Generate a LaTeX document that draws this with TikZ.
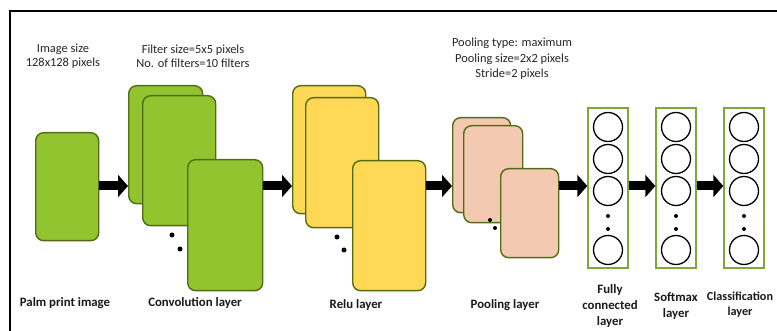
\documentclass[tikz,border=0pt]{standalone}
\usepackage{fontspec}
\setmainfont{Carlito}
\usetikzlibrary{arrows.meta, positioning}
\definecolor{mapgreen}{RGB}{146,196,48}
\definecolor{mapedge}{RGB}{82,108,22}
\definecolor{mapyellow}{RGB}{255,217,86}
\definecolor{mappeach}{RGB}{244,201,178}
\definecolor{layeredge}{RGB}{128,168,56}

\begin{document}
\begin{tikzpicture}[x=1pt, y=-1pt,
    fmap/.style={draw=mapedge, line width=1.4pt, rounded corners=8pt,
                 anchor=north west, inner sep=0pt},
    conv/.style={fmap, fill=mapgreen},
    relu/.style={fmap, fill=mapyellow},
    pool/.style={fmap, fill=mappeach},
    layer/.style={draw=layeredge, line width=1.4pt, fill=white,
                  minimum width=40pt, minimum height=160pt, inner sep=0pt},
    neuron/.style={circle, draw, line width=1.3pt, minimum size=29pt, inner sep=0pt},
    dot/.style={circle, fill, inner sep=0pt, minimum size=5pt},
    info/.style={align=center, font=\fontsize{12.4}{13.5}\selectfont, text=black!85},
    title/.style={align=center, font=\fontsize{12.8}{16}\selectfont\bfseries, text=black!90},
    blk/.style={line width=9pt, -{Triangle[length=10pt, width=22pt]}},
]
\useasboundingbox (0,0) rectangle (777,331);
\draw[line width=1.3pt] (10,331) -- (10,11) -- (777,11);
\coordinate (row) at (0,186);

% input and feature maps
\node[conv, minimum width=63pt, minimum height=108pt] (palm) at (35,132) {};
\node[conv, minimum width=74pt, minimum height=118pt] (conv1) at (128,85) {};
\node[conv, minimum width=73pt, minimum height=130pt] (conv2) at (142,95) {};
\node[conv, minimum width=75pt, minimum height=131pt] (conv3) at (187,159) {};
\node[dot] (cdot1) at (172,235) {};
\node[dot] (cdot2) at (180,249) {};

\node[relu, minimum width=73pt, minimum height=128pt] (relu1) at (292,85) {};
\node[relu, minimum width=73pt, minimum height=130pt] (relu2) at (305,97) {};
\node[relu, minimum width=73pt, minimum height=130pt] (relu3) at (352,160) {};
\node[dot] (rdot1) at (337,237) {};
\node[dot] (rdot2) at (344,250) {};

\node[pool, minimum width=58pt, minimum height=95pt] (pool1) at (452,117) {};
\node[pool, minimum width=59pt, minimum height=97pt] (pool2) at (463,125) {};
\node[pool, minimum width=58pt, minimum height=89pt] (pool3) at (500,168) {};
\node[dot, minimum size=4pt] (pdot1) at (490,220) {};
\node[dot, minimum size=4pt] (pdot2) at (495,228) {};

% neuron columns
\foreach \lay/\x in {fc/608, sm/676, cls/744} {
  \node[layer] (\lay) at (\x,188) {};
  \foreach \k/\y in {1/127, 2/159, 3/191, 4/250}
    \node[neuron] (\lay-\k) at (\x,\y) {};
  \node[dot, minimum size=4pt] (\lay-d1) at (\x,216) {};
  \node[dot, minimum size=4pt] (\lay-d2) at (\x,229) {};
}

\draw[blk] (palm.east |- row) -- (conv1.west |- row);
\draw[blk] (conv3.east |- row) -- (relu1.west |- row);
\draw[blk] (relu3.east |- row) -- (pool1.west |- row);
\draw[blk] (pool3.east |- row) -- (fc.west |- row);
\draw[blk] (fc.east |- row) -- (sm.west |- row);
\draw[blk] (sm.east |- row) -- (cls.west |- row);

\node[info] (imginfo) at (63,56) {Image size\\128x128 pixels};
\node[info] (convinfo) at (193,56) {Filter size=5x5 pixels\\No. of filters=10 filters};
\node[info, font=\fontsize{12.4}{15.5}\selectfont] (poolinfo) at (512,59)
  {Pooling type: maximum\\Pooling size=2x2 pixels\\Stride=2 pixels};

\node[title] (palmlbl) at (65,303) {Palm print image};
\node[title] (convlbl) at (195,303) {Convolution layer};
\node[title] (relulbl) at (356,305) {Relu layer};
\node[title] (poollbl) at (505,305) {Pooling layer};
\node[title] (fclbl) at (610,306) {Fully\\connected\\layer};
\node[title] (smlbl) at (676,306) {Softmax\\layer};
\node[title, font=\fontsize{12.2}{15}\selectfont\bfseries] (clslbl) at (740,305)
  {Classification\\layer};
\end{tikzpicture}
\end{document}
